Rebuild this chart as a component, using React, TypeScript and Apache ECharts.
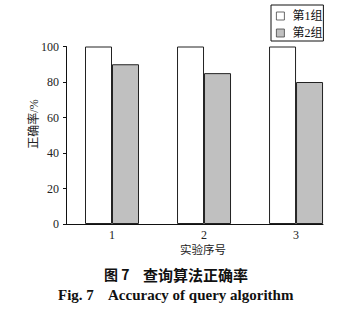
import React, { useEffect, useRef } from "react";
import * as echarts from "echarts";

const categories = [1, 2, 3];
const group1Values = [100, 100, 100];
const group2Values = [90, 85, 80];
const seriesNames = ["第1组", "第2组"];
const yTicks = [0, 20, 40, 60, 80, 100];

const SERIF = "'Liberation Serif', 'Noto Sans CJK SC', serif";
const CJK = "'Noto Sans CJK SC', sans-serif";

export default function App() {
  const ref = useRef<HTMLDivElement>(null);
  useEffect(() => {
    if (!ref.current) return;
    const chart = echarts.init(ref.current, undefined, { renderer: "svg" });
    chart.setOption({
      animation: false,
      backgroundColor: "#ffffff",
      grid: { left: 66, top: 46.5, right: 29, bottom: 86, containLabel: false },
      legend: {
        orient: "vertical",
        left: 271,
        top: 5,
        padding: [5, 1, 2, 5],
        itemGap: 5,
        itemWidth: 8,
        itemHeight: 8,
        icon: "rect",
        borderColor: "#111",
        borderWidth: 1,
        data: seriesNames,
        itemStyle: { borderWidth: 0.8, borderColor: "#444" },
        textStyle: { fontFamily: SERIF, fontSize: 12, color: "#111", padding: [0, 0, 0, 3] },
      },
      xAxis: {
        type: "value",
        min: 0.5,
        max: 3.293,
        interval: 0.5,
        axisLine: { show: true, onZero: false, lineStyle: { color: "#111", width: 1 } },
        axisTick: { show: false },
        splitLine: { show: false },
        axisLabel: {
          margin: 5,
          fontFamily: SERIF,
          fontSize: 12,
          lineHeight: 12,
          color: "#222",
          showMaxLabel: false,
          showMinLabel: false,
          formatter: (v: number) =>
            categories.some((c) => Math.abs(c - v) < 1e-6) ? String(Math.round(v)) : "",
        },
      },
      yAxis: {
        type: "value",
        min: yTicks[0],
        max: yTicks[yTicks.length - 1],
        interval: 20,
        axisLine: { show: true, lineStyle: { color: "#111", width: 1 } },
        axisTick: { show: true, inside: false, length: 3, lineStyle: { color: "#111" } },
        splitLine: { show: false },
        axisLabel: { margin: 7, fontFamily: SERIF, fontSize: 12, color: "#222" },
      },
      series: [
        {
          name: seriesNames[0],
          type: "bar",
          barWidth: 27,
          barGap: "0%",
          data: categories.map((c, i) => [c, group1Values[i]]),
          itemStyle: { color: "#ffffff", borderColor: "#222", borderWidth: 1 },
        },
        {
          name: seriesNames[1],
          type: "bar",
          barWidth: 27,
          barGap: "0%",
          data: categories.map((c, i) => [c, group2Values[i]]),
          itemStyle: { color: "#c0c0c0", borderColor: "#222", borderWidth: 1 },
        },
      ],
      graphic: [
        {
          type: "text",
          x: 34,
          y: 124,
          rotation: Math.PI / 2,
          style: {
            text: "正确率/%",
            fontFamily: SERIF,
            fontSize: 12,
            fill: "#222",
            textAlign: "center",
            textVerticalAlign: "middle",
          },
        },
        {
          type: "text",
          x: 203,
          y: 248.5,
          style: {
            text: "实验序号",
            fontFamily: CJK,
            fontSize: 11.5,
            fill: "#222",
            textAlign: "center",
            textVerticalAlign: "middle",
          },
        },
        {
          type: "text",
          x: 104,
          y: 274,
          style: {
            text: "图 7",
            fontFamily: CJK,
            fontSize: 14,
            fontWeight: "bold",
            fill: "#111",
            textAlign: "left",
            textVerticalAlign: "middle",
          },
        },
        {
          type: "text",
          x: 143,
          y: 274,
          style: {
            text: "查询算法正确率",
            fontFamily: CJK,
            fontSize: 15,
            fontWeight: "bold",
            fill: "#111",
            textAlign: "left",
            textVerticalAlign: "middle",
          },
        },
        {
          type: "text",
          x: 58,
          y: 295,
          style: {
            text: "Fig. 7",
            fontFamily: SERIF,
            fontSize: 15,
            fontWeight: "bold",
            fill: "#111",
            textAlign: "left",
            textVerticalAlign: "middle",
          },
        },
        {
          type: "text",
          x: 108,
          y: 295,
          style: {
            text: "Accuracy of query algorithm",
            fontFamily: SERIF,
            fontSize: 15,
            fontWeight: "bold",
            fill: "#111",
            textAlign: "left",
            textVerticalAlign: "middle",
          },
        },
      ],
    });
    return () => chart.dispose();
  }, []);
  return (
    <div
      ref={ref}
      style={{ position: "fixed", left: 0, top: 0, width: 352, height: 310, background: "#fff" }}
    />
  );
}
